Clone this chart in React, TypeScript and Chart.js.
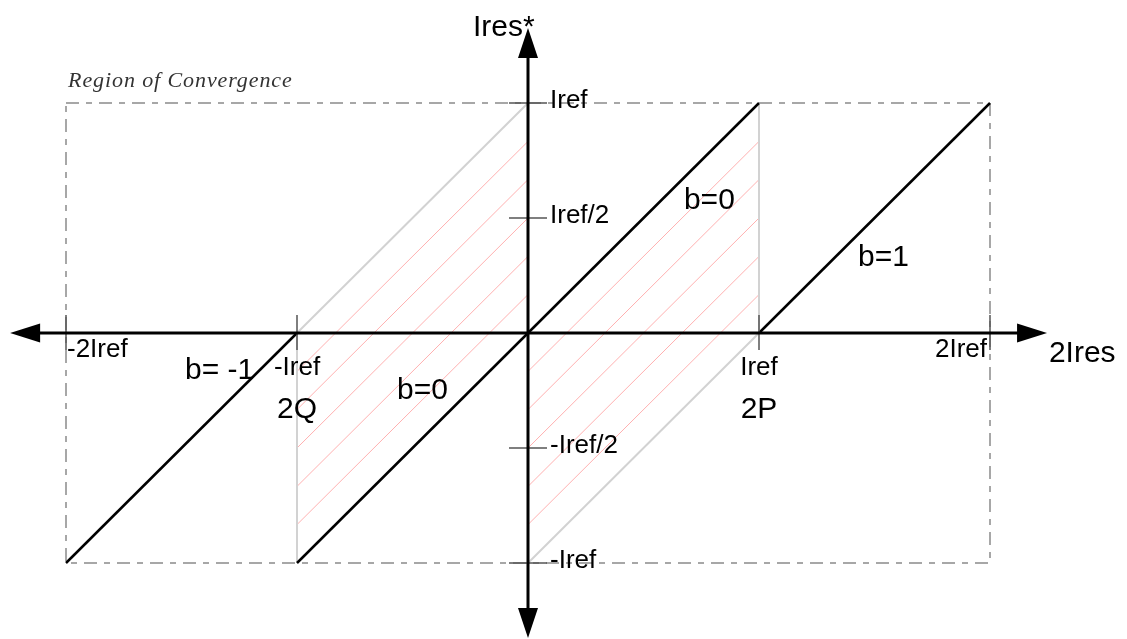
import { useEffect, useRef } from "react";
import { Chart, registerables } from "chart.js";

Chart.register(...registerables);

type Pt = { x: number; y: number };

// Region of convergence (units of Iref): dashed frame
const regionX = [-2, 2];
const regionY = [-1, 1];

// Saw-tooth branches of the residue map, one per value of b
const branchMinus1: Pt[] = [{ x: -2, y: -1 }, { x: -1, y: 0 }];
const branchZero: Pt[] = [{ x: -1, y: -1 }, { x: 1, y: 1 }];
const branchPlus1: Pt[] = [{ x: 1, y: 0 }, { x: 2, y: 1 }];

// Edges of the band that the residue must stay inside
const bandUpperEdge: Pt[] = [{ x: -1, y: 0 }, { x: 0, y: 1 }];
const bandLowerEdge: Pt[] = [{ x: 0, y: -1 }, { x: 1, y: 0 }];
const bandLeftSide: Pt[] = [{ x: -1, y: 0 }, { x: -1, y: -1 }];
const bandRightSide: Pt[] = [{ x: 1, y: 1 }, { x: 1, y: 0 }];

// Hatch lines y = x + c inside the band
const hatchOffsets = [0.833, 0.667, 0.5, 0.333, 0.167, -0.167, -0.333, -0.5, -0.667, -0.833];

// Axis ticks
const xTickValues = [-2, -1, 1, 2];
const xTickLabels = ["-2Iref", "-Iref", "Iref", "2Iref"];
const yTickValues = [1, 0.5, -0.5, -1];
const yTickLabels = ["Iref", "Iref/2", "-Iref/2", "-Iref"];

// Axis extents, tip to tip
const xAxisExtent = [-2.242, 2.247];
const yAxisExtent = [-1.326, 1.326];

// Annotations (anchor in data units)
const axisTitles = ["2Ires", "Ires*"];
const axisTitleAnchors: Pt[] = [{ x: 2.255, y: -0.126 }, { x: -0.238, y: 1.291 }];
const branchLabels = ["b= -1", "b=0", "b=0", "b=1"];
const branchLabelAnchors: Pt[] = [
  { x: -1.485, y: -0.2 },
  { x: -0.567, y: -0.287 },
  { x: 0.675, y: 0.539 },
  { x: 1.429, y: 0.291 },
];
const pointLabels = ["2Q", "2P"];
const pointLabelAnchors: Pt[] = [{ x: -1, y: -0.37 }, { x: 1, y: -0.37 }];
const regionTitle = "Region of Convergence";
const regionTitleAnchor: Pt = { x: -1.991, y: 1.07 };

const SANS = "'Liberation Sans', Arial, sans-serif";

const hatchSegment = (c: number): Pt[] =>
  c > 0
    ? [{ x: -1, y: c - 1 }, { x: 0, y: c }]
    : [{ x: 0, y: c }, { x: 1, y: 1 + c }];

const diagramOverlay = {
  id: "diagramOverlay",
  afterDatasetsDraw(chart: Chart) {
    const { ctx } = chart;
    const xs = chart.scales.x;
    const ys = chart.scales.y;
    const px = (v: number) => xs.getPixelForValue(v);
    const py = (v: number) => ys.getPixelForValue(v);
    const ox = px(0);
    const oy = py(0);

    ctx.save();

    // tick marks
    ctx.strokeStyle = "#555";
    ctx.lineWidth = 1.5;
    xTickValues.forEach((v) => {
      ctx.beginPath();
      ctx.moveTo(px(v), oy - 18);
      ctx.lineTo(px(v), oy + 17);
      ctx.stroke();
    });
    yTickValues.forEach((v) => {
      ctx.beginPath();
      ctx.moveTo(ox - 19, py(v));
      ctx.lineTo(ox + 19, py(v));
      ctx.stroke();
    });

    // axes with arrow heads
    const headLen = 30;
    const headHalf = 9.5;
    const xl = px(xAxisExtent[0]);
    const xr = px(xAxisExtent[1]);
    const yt = py(yAxisExtent[1]);
    const yb = py(yAxisExtent[0]);
    ctx.strokeStyle = "#000";
    ctx.lineWidth = 3;
    ctx.lineCap = "butt";
    ctx.beginPath();
    ctx.moveTo(xl + headLen - 2, oy);
    ctx.lineTo(xr - headLen + 2, oy);
    ctx.moveTo(ox, yt + headLen - 2);
    ctx.lineTo(ox, yb - headLen + 2);
    ctx.stroke();

    ctx.fillStyle = "#000";
    const tri = (a: number[], b: number[], c: number[]) => {
      ctx.beginPath();
      ctx.moveTo(a[0], a[1]);
      ctx.lineTo(b[0], b[1]);
      ctx.lineTo(c[0], c[1]);
      ctx.closePath();
      ctx.fill();
    };
    tri([xl, oy], [xl + headLen, oy - headHalf], [xl + headLen, oy + headHalf]);
    tri([xr, oy], [xr - headLen, oy - headHalf], [xr - headLen, oy + headHalf]);
    tri([ox, yt], [ox - headHalf - 0.5, yt + headLen], [ox + headHalf + 0.5, yt + headLen]);
    tri([ox, yb], [ox - headHalf - 0.5, yb - headLen], [ox + headHalf + 0.5, yb - headLen]);

    // tick labels
    ctx.fillStyle = "#000";
    ctx.textBaseline = "alphabetic";
    ctx.font = `26px ${SANS}`;
    xTickValues.forEach((v, i) => {
      const first = i === 0;
      const last = i === xTickValues.length - 1;
      ctx.textAlign = first ? "left" : last ? "right" : "center";
      const tx = first ? px(v) + 1 : last ? px(v) - 3 : px(v);
      const ty = first || last ? oy + 24 : oy + 42;
      ctx.fillText(xTickLabels[i], tx, ty);
    });
    ctx.textAlign = "left";
    yTickValues.forEach((v, i) => {
      ctx.fillText(yTickLabels[i], ox + 22, py(v) + 5);
    });

    // axis titles and branch labels
    ctx.font = `30px ${SANS}`;
    ctx.textAlign = "left";
    axisTitles.forEach((t, i) => {
      ctx.fillText(t, px(axisTitleAnchors[i].x), py(axisTitleAnchors[i].y));
    });
    branchLabels.forEach((t, i) => {
      ctx.fillText(t, px(branchLabelAnchors[i].x), py(branchLabelAnchors[i].y));
    });
    ctx.textAlign = "center";
    pointLabels.forEach((t, i) => {
      ctx.fillText(t, px(pointLabelAnchors[i].x), py(pointLabelAnchors[i].y));
    });

    // frame caption
    ctx.textAlign = "left";
    ctx.fillStyle = "#333";
    ctx.font = `italic 22px 'Liberation Serif', 'Times New Roman', serif`;
    (ctx as any).letterSpacing = "0.9px";
    ctx.fillText(regionTitle, px(regionTitleAnchor.x), py(regionTitleAnchor.y));

    ctx.restore();
  },
};

export default function App() {
  const canvasRef = useRef<HTMLCanvasElement | null>(null);

  useEffect(() => {
    const canvas = canvasRef.current;
    if (!canvas) return;

    const seg = (data: Pt[], color: string, width: number, dash: number[] = []) => ({
      type: "line" as const,
      data,
      showLine: true,
      borderColor: color,
      borderWidth: width,
      borderDash: dash,
      borderCapStyle: "butt" as const,
      pointRadius: 0,
      pointHoverRadius: 0,
      fill: false,
      tension: 0,
    });

    const frame: Pt[] = [
      { x: regionX[0], y: regionY[1] },
      { x: regionX[1], y: regionY[1] },
      { x: regionX[1], y: regionY[0] },
      { x: regionX[0], y: regionY[0] },
      { x: regionX[0], y: regionY[1] },
    ];

    // listed bottom to top
    const layers = [
      seg(frame, "#8a8a8a", 1.5, [13, 7, 6, 7]),
      ...hatchOffsets.map((c) => seg(hatchSegment(c), "#ffb0b0", 1)),
      seg(bandUpperEdge, "#d2d2d2", 2),
      seg(bandLowerEdge, "#d2d2d2", 2),
      seg(bandLeftSide, "#d2d2d2", 2),
      seg(bandRightSide, "#d2d2d2", 2),
      seg(branchMinus1, "#000", 2.5),
      seg(branchZero, "#000", 2.5),
      seg(branchPlus1, "#000", 2.5),
    ];
    const datasets = layers.map((d, i) => ({ ...d, order: layers.length - i }));

    const chart = new Chart(canvas, {
      type: "scatter",
      data: { datasets: datasets as any },
      options: {
        animation: false,
        responsive: false,
        maintainAspectRatio: false,
        events: [],
        layout: { padding: 0 },
        plugins: {
          legend: { display: false },
          tooltip: { enabled: false },
        },
        scales: {
          x: { type: "linear", min: -528 / 231, max: 599 / 231, display: false },
          y: { type: "linear", min: -306 / 230, max: 333 / 230, display: false },
        },
      },
      plugins: [diagramOverlay],
    });

    return () => chart.destroy();
  }, []);

  return (
    <div style={{ position: "fixed", left: 0, top: 0, width: 1127, height: 639, background: "#fff" }}>
      <canvas ref={canvasRef} width={1127} height={639} style={{ display: "block" }} />
    </div>
  );
}
